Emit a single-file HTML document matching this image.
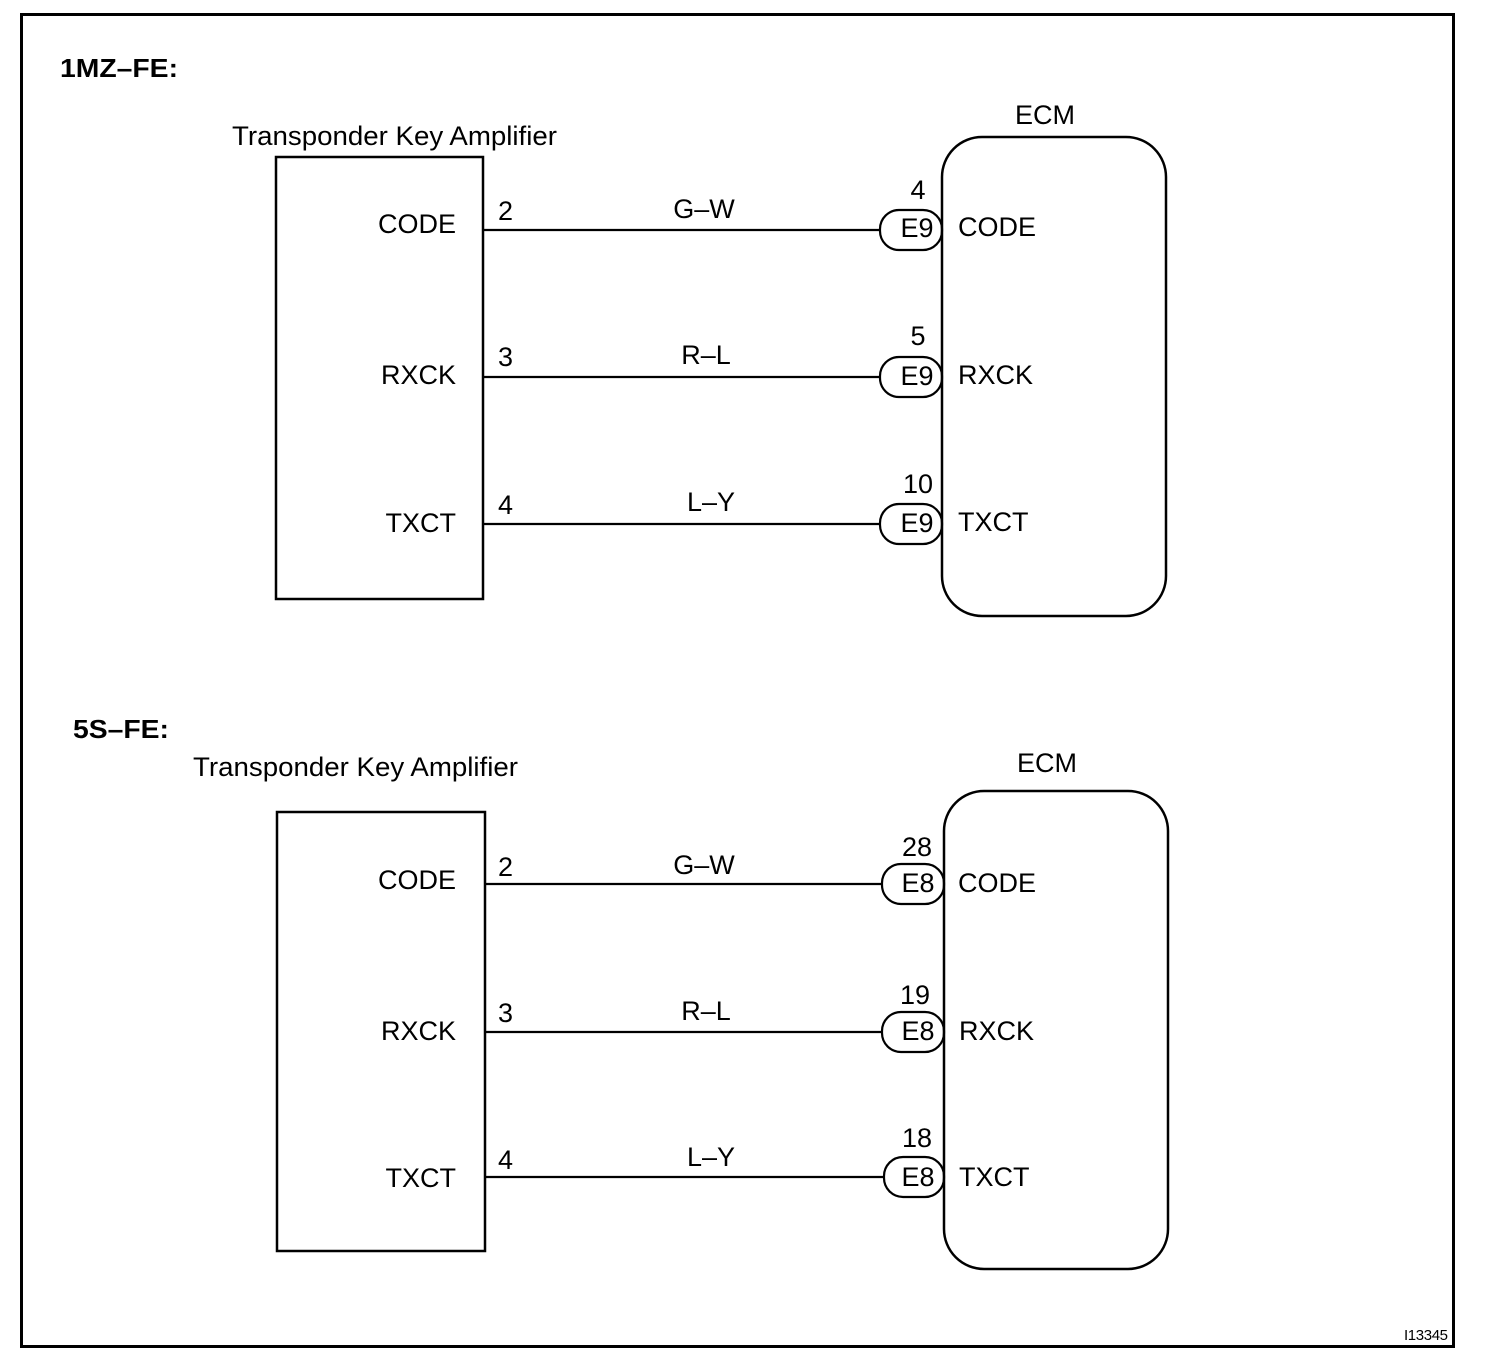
<!DOCTYPE html>
<html><head><style>html,body{margin:0;padding:0;background:#fff}svg{display:block}</style></head><body>
<svg width="1504" height="1370" viewBox="0 0 1504 1370" xmlns="http://www.w3.org/2000/svg" font-family="Liberation Sans, sans-serif" fill="#000">
<rect x="21.5" y="14.5" width="1432" height="1332" fill="none" stroke="#000" stroke-width="3"/>
<text x="1404" y="1340" font-size="15" textLength="44">I13345</text>

<g id="top">
<text x="60" y="77" font-size="26" font-weight="bold" textLength="118" lengthAdjust="spacingAndGlyphs">1MZ–FE:</text>
<text x="232" y="145" font-size="27" textLength="325" lengthAdjust="spacingAndGlyphs">Transponder Key Amplifier</text>
<rect x="276" y="157" width="207" height="442" fill="none" stroke="#000" stroke-width="2.5"/>
<text x="1015" y="124" font-size="27">ECM</text>
<rect x="942" y="137" width="224" height="479" rx="40" fill="none" stroke="#000" stroke-width="2.5"/>
<g font-size="27">
<text x="456" y="233" text-anchor="end">CODE</text>
<text x="456" y="384" text-anchor="end">RXCK</text>
<text x="456" y="532" text-anchor="end">TXCT</text>
<text x="958" y="236">CODE</text>
<text x="958" y="384">RXCK</text>
<text x="958" y="531">TXCT</text>
<text x="498" y="220">2</text><text x="498" y="366">3</text><text x="498" y="514">4</text>
<text x="704" y="218" text-anchor="middle">G–W</text>
<text x="706" y="364" text-anchor="middle">R–L</text>
<text x="711" y="511" text-anchor="middle">L–Y</text>
<text x="918" y="199" text-anchor="middle">4</text>
<text x="918" y="345" text-anchor="middle">5</text>
<text x="918" y="493" text-anchor="middle">10</text>
<text x="917" y="237" text-anchor="middle">E9</text>
<text x="917" y="385" text-anchor="middle">E9</text>
<text x="917" y="532" text-anchor="middle">E9</text>
</g>
<g stroke="#000" stroke-width="2.2" fill="none">
<line x1="483" y1="230" x2="880" y2="230"/><line x1="483" y1="377" x2="880" y2="377"/><line x1="483" y1="524" x2="880" y2="524"/>
<rect x="880" y="210" width="62" height="40" rx="19"/>
<rect x="880" y="357" width="62" height="40" rx="19"/>
<rect x="880" y="504" width="62" height="40" rx="19"/>
</g>
</g>

<g id="bot">
<text x="73" y="738" font-size="26" font-weight="bold" textLength="96" lengthAdjust="spacingAndGlyphs">5S–FE:</text>
<text x="193" y="776" font-size="27" textLength="325" lengthAdjust="spacingAndGlyphs">Transponder Key Amplifier</text>
<rect x="277" y="812" width="208" height="439" fill="none" stroke="#000" stroke-width="2.5"/>
<text x="1017" y="772" font-size="27">ECM</text>
<rect x="944" y="791" width="224" height="478" rx="40" fill="none" stroke="#000" stroke-width="2.5"/>
<g font-size="27">
<text x="456" y="889" text-anchor="end">CODE</text>
<text x="456" y="1040" text-anchor="end">RXCK</text>
<text x="456" y="1187" text-anchor="end">TXCT</text>
<text x="958" y="892">CODE</text>
<text x="959" y="1040">RXCK</text>
<text x="959" y="1186">TXCT</text>
<text x="498" y="876">2</text><text x="498" y="1022">3</text><text x="498" y="1169">4</text>
<text x="704" y="874" text-anchor="middle">G–W</text>
<text x="706" y="1020" text-anchor="middle">R–L</text>
<text x="711" y="1166" text-anchor="middle">L–Y</text>
<text x="917" y="856" text-anchor="middle">28</text>
<text x="915" y="1004" text-anchor="middle">19</text>
<text x="917" y="1147" text-anchor="middle">18</text>
<text x="918" y="892" text-anchor="middle">E8</text>
<text x="918" y="1040" text-anchor="middle">E8</text>
<text x="918" y="1186" text-anchor="middle">E8</text>
</g>
<g stroke="#000" stroke-width="2.2" fill="none">
<line x1="485" y1="884" x2="882" y2="884"/><line x1="485" y1="1032" x2="882" y2="1032"/><line x1="485" y1="1177" x2="884" y2="1177"/>
<rect x="882" y="864" width="62" height="40" rx="19"/>
<rect x="882" y="1012" width="62" height="40" rx="19"/>
<rect x="884" y="1157" width="60" height="40" rx="19"/>
</g>
</g>
</svg>
</body></html>
